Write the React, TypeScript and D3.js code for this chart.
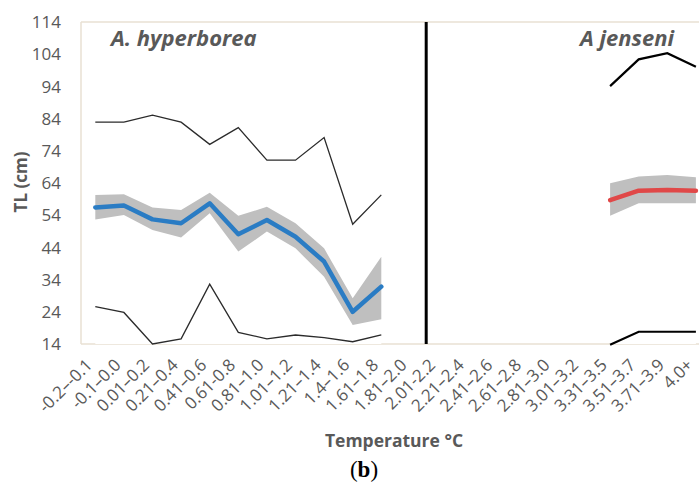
import React, { useEffect, useRef } from "react";
import * as d3 from "d3";

const categories = [
  "-0.2\u2013-0.1", "-0.1\u20130.0", "0.01\u20130.2", "0.21\u20130.4", "0.41\u20130.6",
  "0.61-0.8", "0.81\u20131.0", "1.01\u20131.2", "1.21\u20131.4", "1.4\u20131.6",
  "1.61\u20131.8", "1.81\u20132.0", "2.01-2.2", "2.21\u20132.4", "2.41\u20132.6",
  "2.61\u20132.8", "2.81\u20133.0", "3.01\u20133.2", "3.31\u20133.5", "3.51\u20133.7",
  "3.71\u20133.9", "4.0+",
];

const yTicks = [14, 24, 34, 44, 54, 64, 74, 84, 94, 104, 114];

// A. hyperborea, first 11 categories
const hypCats = categories.slice(0, 11);
const hypMean = [56.4, 57.0, 52.7, 51.5, 57.7, 48.1, 52.5, 47.3, 39.6, 24.0, 31.8];
const hypUpper = [60.3, 60.5, 56.4, 55.6, 61.0, 53.8, 56.6, 51.5, 43.7, 28.2, 41.1];
const hypLower = [52.7, 54.1, 49.4, 47.1, 54.6, 42.7, 48.9, 43.7, 34.9, 19.9, 21.7];
const hypMax = [82.9, 82.9, 85.1, 82.9, 76.0, 81.2, 71.1, 71.1, 78.1, 51.2, 60.3];
const hypMin = [25.6, 23.8, 14.0, 15.6, 32.6, 17.6, 15.6, 16.8, 16.0, 14.7, 16.8];

// A. jenseni, last 4 categories
const jenCats = categories.slice(18);
const jenMean = [58.7, 61.6, 61.8, 61.6];
const jenUpper = [63.9, 66.0, 66.5, 65.8];
const jenLower = [53.8, 57.7, 57.7, 57.7];
const jenMax = [94.1, 102.4, 104.3, 100.1];
const jenMin = [13.8, 17.8, 17.8, 17.8];

const W = 699;
const H = 482;
const grey = "#595959";
const font = "'Open Sans', sans-serif";

function Chart() {
  const ref = useRef<SVGSVGElement>(null);

  useEffect(() => {
    const svg = d3.select(ref.current);
    svg.selectAll("*").remove();

    const left = 81;
    const step = 28.6;
    const x = d3
      .scaleBand()
      .domain(categories)
      .range([left, left + step * categories.length]);
    const cx = (c: string) => (x(c) as number) + x.bandwidth() / 2;
    const y = d3.scaleLinear().domain([14, 114]).range([344, 22]);

    // plot border (light beige)
    const axisColor = "#e9e1d3";
    svg.append("line").attr("x1", left).attr("x2", W).attr("y1", y(114)).attr("y2", y(114))
      .attr("stroke", axisColor).attr("stroke-width", 1.5);
    svg.append("line").attr("x1", left).attr("x2", left).attr("y1", y(114)).attr("y2", y(14))
      .attr("stroke", axisColor).attr("stroke-width", 1.5);
    svg.append("line").attr("x1", left).attr("x2", W).attr("y1", y(14)).attr("y2", y(14))
      .attr("stroke", axisColor).attr("stroke-width", 1.5);

    // y tick labels
    svg.append("g").selectAll("text").data(yTicks).join("text")
      .attr("x", 61).attr("y", (d) => y(d)).attr("dy", "0.36em")
      .attr("text-anchor", "end").attr("fill", grey)
      .attr("font-family", font).attr("font-size", 17)
      .text((d) => d);

    // x tick labels, rotated
    svg.append("g").selectAll("text").data(categories).join("text")
      .attr("transform", (d) => `translate(${cx(d) - 2},${366}) rotate(-45)`)
      .attr("text-anchor", "end").attr("fill", grey)
      .attr("font-family", font).attr("font-size", 17)
      .text((d) => d);

    const drawGroup = (
      cats: string[], mean: number[], upper: number[], lower: number[],
      mx: number[], mn: number[], lineColor: string, extColor: string, extWidth: number,
    ) => {
      const idx = d3.range(cats.length);
      // white fill below the band hides the axis line, as in the original
      svg.append("path")
        .attr("d", d3.area<number>().x((i) => cx(cats[i])).y0(y(14)).y1((i) => y(lower[i]))(idx) as string)
        .attr("fill", "#fff");
      svg.append("path")
        .attr("d", d3.area<number>().x((i) => cx(cats[i])).y0((i) => y(lower[i])).y1((i) => y(upper[i]))(idx) as string)
        .attr("fill", "#bfbfbf");
      const line = (vals: number[]) =>
        d3.line<number>().x((i) => cx(cats[i])).y((i) => y(vals[i]))(idx) as string;
      svg.append("path").attr("d", line(mx)).attr("fill", "none")
        .attr("stroke", extColor).attr("stroke-width", extWidth);
      svg.append("path").attr("d", line(mn)).attr("fill", "none")
        .attr("stroke", extColor).attr("stroke-width", extWidth);
      svg.append("path").attr("d", line(mean)).attr("fill", "none")
        .attr("stroke", lineColor).attr("stroke-width", 4.5)
        .attr("stroke-linejoin", "round").attr("stroke-linecap", "round");
    };

    drawGroup(hypCats, hypMean, hypUpper, hypLower, hypMax, hypMin, "#2a7cc4", "#2b2b2b", 1.3);
    drawGroup(jenCats, jenMean, jenUpper, jenLower, jenMax, jenMin, "#e04848", "#000", 2.2);

    // separator between the two species
    const sepX = x(categories[12]) as number;
    svg.append("line").attr("x1", sepX + 2).attr("x2", sepX + 2).attr("y1", y(114)).attr("y2", y(14))
      .attr("stroke", "#000").attr("stroke-width", 3);

    // species titles
    svg.append("text").attr("x", 111).attr("y", 46)
      .attr("font-family", font).attr("font-size", 22)
      .attr("font-weight", "bold").attr("font-style", "italic").attr("fill", grey)
      .text("A. hyperborea");
    svg.append("text").attr("x", 674).attr("y", 46).attr("text-anchor", "end")
      .attr("font-family", font).attr("font-size", 22)
      .attr("font-weight", "bold").attr("font-style", "italic").attr("fill", grey)
      .text("A jenseni");

    // axis titles
    svg.append("text").attr("transform", "translate(27,182) rotate(-90)")
      .attr("text-anchor", "middle").attr("fill", grey)
      .attr("font-family", font).attr("font-size", 17).attr("font-weight", "bold")
      .text("TL (cm)");
    svg.append("text").attr("x", 394).attr("y", 447).attr("text-anchor", "middle").attr("fill", grey)
      .attr("font-family", font).attr("font-size", 17.5).attr("font-weight", "bold")
      .text("Temperature \u00b0C");

    const b = svg.append("text").attr("x", 364).attr("y", 477).attr("text-anchor", "middle")
      .attr("font-family", "'Liberation Serif', serif").attr("font-size", 23).attr("fill", "#000");
    b.append("tspan").text("(");
    b.append("tspan").attr("font-weight", "bold").text("b");
    b.append("tspan").text(")");
  }, []);

  return (
    <svg
      ref={ref}
      width={W}
      height={H}
      style={{ position: "absolute", left: 0, top: 0, background: "#fff" }}
    />
  );
}

export default function App() {
  return <Chart />;
}
